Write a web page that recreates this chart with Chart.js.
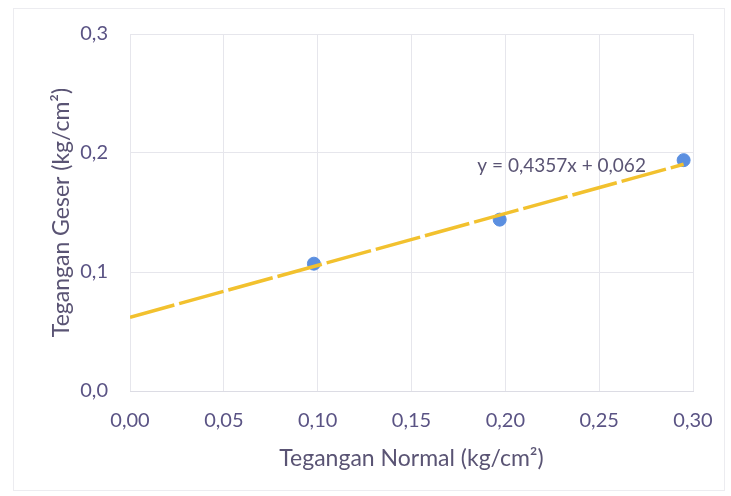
<!DOCTYPE html>
<html lang="id">
<head>
    <meta charset="UTF-8">
    <title>Tegangan Geser vs Tegangan Normal</title>
    <script src="https://cdn.jsdelivr.net/npm/chart.js"></script>
    <style>
        html, body { margin: 0; padding: 0; background: #ffffff; }
        #wrap { width: 731px; height: 496px; position: relative; }
    </style>
</head>
<body>
    <div id="wrap"><canvas id="chart" width="731" height="496"></canvas></div>

    <script>
        // measured points
        const normalStress = [0.098, 0.197, 0.295];
        const shearStress = [0.107, 0.144, 0.194];

        // linear trendline from the chart
        const slope = 0.4357;
        const intercept = 0.062;
        const trendX = [0, 0.295];
        const trendY = trendX.map(x => slope * x + intercept);
        const equationText = 'y = 0,4357x + 0,062';
        const equationAt = { x: 0.230, y: 0.189 };

        const xTicks = [0, 0.05, 0.10, 0.15, 0.20, 0.25, 0.30];
        const yTicks = [0, 0.1, 0.2, 0.3];

        const textColor = '#5a5474';
        const tickColor = '#5a5384';
        const fontFamily = 'Lato, "Open Sans", sans-serif';

        // faint outer frame of the chart object
        const chartFrame = {
            id: 'chartFrame',
            beforeDraw(chart) {
                const ctx = chart.ctx;
                ctx.save();
                ctx.strokeStyle = '#ececf0';
                ctx.lineWidth = 1;
                ctx.strokeRect(13.5, 8.5, 711, 482);
                ctx.restore();
            }
        };

        const equationLabel = {
            id: 'equationLabel',
            afterDatasetsDraw(chart) {
                const ctx = chart.ctx;
                const px = chart.scales.x.getPixelForValue(equationAt.x);
                const py = chart.scales.y.getPixelForValue(equationAt.y);
                ctx.save();
                ctx.font = '19px ' + fontFamily;
                ctx.fillStyle = textColor;
                ctx.textAlign = 'center';
                ctx.textBaseline = 'middle';
                ctx.fillText(equationText, px, py);
                ctx.restore();
            }
        };

        const ctx = document.getElementById('chart').getContext('2d');
        new Chart(ctx, {
            type: 'scatter',
            data: {
                datasets: [
                    {
                        label: 'Trendline',
                        type: 'line',
                        data: trendX.map((x, i) => ({ x: x, y: trendY[i] })),
                        borderColor: '#f2c12e',
                        borderWidth: 3.5,
                        borderDash: [46, 5],
                        pointRadius: 0,
                        fill: false,
                        order: 1
                    },
                    {
                        label: 'Data',
                        data: normalStress.map((x, i) => ({ x: x, y: shearStress[i] })),
                        backgroundColor: '#5b8fe0',
                        borderColor: '#5b8fe0',
                        pointRadius: 6.5,
                        order: 2
                    }
                ]
            },
            options: {
                responsive: false,
                animation: false,
                layout: { padding: { left: 48, right: 38, top: 34, bottom: 20 } },
                plugins: {
                    legend: { display: false },
                    tooltip: { enabled: false }
                },
                scales: {
                    x: {
                        type: 'linear',
                        min: 0,
                        max: 0.30,
                        afterBuildTicks: axis => { axis.ticks = xTicks.map(v => ({ value: v })); },
                        afterFit: axis => { axis.height = 85; },
                        grid: { color: '#e6e6ec', drawTicks: false },
                        border: { color: '#dcdce4' },
                        ticks: {
                            padding: 18,
                            color: tickColor,
                            font: { family: fontFamily, size: 20 },
                            callback: v => v.toFixed(2).replace('.', ',')
                        },
                        title: {
                            display: true,
                            text: 'Tegangan Normal (kg/cm²)',
                            color: textColor,
                            font: { family: fontFamily, size: 23 },
                            padding: { top: 8, bottom: 4 }
                        }
                    },
                    y: {
                        type: 'linear',
                        min: 0,
                        max: 0.3,
                        afterBuildTicks: axis => { axis.ticks = yTicks.map(v => ({ value: v })); },
                        afterFit: axis => { axis.width = 82; },
                        grid: { color: '#e6e6ec', drawTicks: false },
                        border: { display: false },
                        ticks: {
                            padding: 22,
                            color: tickColor,
                            font: { family: fontFamily, size: 20 },
                            callback: v => v.toFixed(1).replace('.', ',')
                        },
                        title: {
                            display: true,
                            text: 'Tegangan Geser (kg/cm²)',
                            color: textColor,
                            font: { family: fontFamily, size: 23 },
                            padding: { top: 0, bottom: 0 }
                        }
                    }
                }
            },
            plugins: [chartFrame, equationLabel]
        });
    </script>
</body>
</html>
